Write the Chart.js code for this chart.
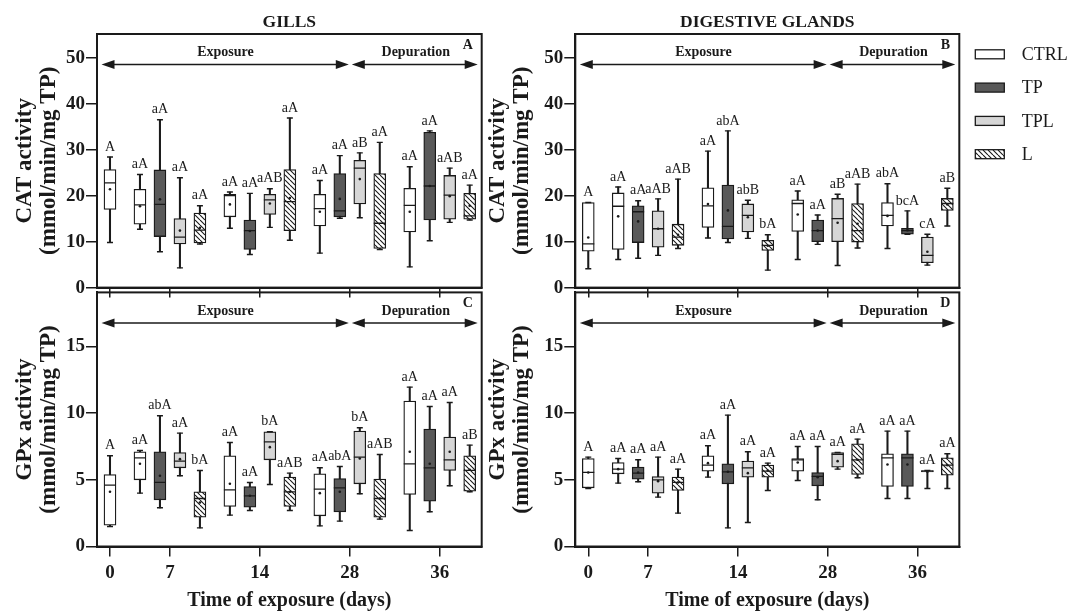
<!DOCTYPE html>
<html>
<head>
<meta charset="utf-8">
<script src="https://cdn.jsdelivr.net/npm/chart.js@4.4.0/dist/chart.umd.min.js"></script>
<style>
  html, body { margin: 0; padding: 0; background: #fff; }
  body { width: 1070px; height: 611px; position: relative; overflow: hidden; }
  canvas { position: absolute; }
</style>
</head>
<body>
<canvas id="chartA" width="530" height="300" style="left:0;top:0"></canvas>
<canvas id="chartB" width="592" height="300" style="left:478px;top:0"></canvas>
<canvas id="chartC" width="530" height="331" style="left:0;top:280px"></canvas>
<canvas id="chartD" width="592" height="331" style="left:478px;top:280px"></canvas>
<script>
/* ------------------
    Data
-------------------*/
var days = ['0', '7', '14', '28', '36'];
var dayPos = [0, 3, 7.5, 12, 16.5];          // where each day sits on the x axis
var groups = ['CTRL', 'TP', 'TPL', 'L'];
var groupShift = [-1.5, -0.5, 0.5, 1.5];
var catTicks = [0, 10, 20, 30, 40, 50];
var gpxTicks = [0, 5, 10, 15];

// each box: [min, q1, median, q3, max, mean]
// CTRL starts at day 0, the other groups at day 7
var catGillsCTRL = [[9.8, 17.0, 22.8, 25.7, 28.4, 21.4], [12.7, 13.8, 18.0, 21.4, 24.6, 17.7], [12.9, 15.4, 20.0, 20.3, 20.8, 18.1], [7.5, 13.4, 17.2, 20.3, 23.3, 16.5], [4.5, 12.1, 17.9, 21.6, 26.3, 16.5]];
var catGillsTP   = [[7.8, 11.1, 18.1, 25.6, 36.5, 19.2], [7.2, 8.3, 12.4, 14.7, 20.5, 12.3], [15.1, 15.4, 16.7, 24.8, 28.7, 19.3], [10.2, 14.7, 22.1, 33.8, 34.1, 22.1]];
var catGillsTPL  = [[4.3, 9.5, 11.0, 15.0, 23.9, 12.4], [13.1, 15.9, 19.1, 20.3, 21.5, 18.3], [15.2, 18.2, 26.0, 27.7, 29.3, 23.6], [14.2, 14.9, 20.1, 24.4, 26.0, 19.9]];
var catGillsL    = [[9.5, 9.7, 12.5, 16.2, 17.8, 13.0], [10.3, 12.4, 18.7, 25.7, 36.9, 19.5], [8.3, 8.5, 14.0, 24.8, 31.6, 16.2], [14.7, 14.9, 15.6, 20.5, 22.3, 17.8]];

var catDigCTRL = [[4.1, 7.9, 9.5, 18.5, 18.5, 10.9], [6.1, 8.3, 17.7, 20.6, 21.9, 15.5], [10.8, 13.1, 17.8, 21.7, 29.7, 18.2], [6.1, 12.2, 18.3, 19.1, 21.0, 15.9], [8.5, 13.4, 15.7, 18.5, 22.6, 15.6]];
var catDigTP   = [[6.4, 9.8, 16.5, 17.8, 18.9, 14.4], [9.8, 10.6, 13.3, 22.3, 34.1, 16.8], [9.4, 10.0, 12.4, 14.7, 15.8, 12.4], [11.6, 11.6, 12.4, 12.9, 16.7, 12.5]];
var catDigTPL  = [[7.0, 8.8, 12.8, 16.7, 19.3, 12.8], [10.7, 12.1, 15.7, 18.2, 19.0, 15.3], [4.8, 10.0, 15.0, 19.4, 20.3, 14.1], [4.9, 5.4, 7.0, 11.0, 11.6, 7.8]];
var catDigL    = [[8.5, 9.2, 11.0, 13.8, 23.6, 11.5], [3.8, 8.1, 9.2, 10.3, 11.5, 9.1], [8.6, 9.9, 12.4, 18.3, 22.5, 13.9], [13.4, 16.8, 18.3, 19.4, 21.6, 18.1]];

var gpxGillsCTRL = [[1.5, 1.6, 4.6, 5.4, 6.8, 4.1], [4.0, 5.0, 6.65, 7.1, 7.2, 6.2], [2.35, 3.0, 4.25, 6.8, 7.8, 4.7], [1.55, 2.3, 4.3, 5.45, 5.9, 4.0], [1.2, 3.9, 6.2, 10.9, 11.95, 7.1]];
var gpxGillsTP   = [[2.9, 3.5, 4.8, 7.1, 9.8, 5.3], [2.7, 2.95, 3.8, 4.5, 4.8, 3.8], [1.9, 2.6, 4.4, 5.1, 6.0, 4.1], [2.6, 3.4, 5.9, 8.8, 10.5, 6.2]];
var gpxGillsTPL  = [[5.3, 5.9, 6.4, 7.05, 8.5, 6.55], [4.65, 6.5, 7.85, 8.6, 8.6, 7.45], [3.95, 4.7, 6.7, 8.65, 8.9, 6.6], [4.55, 5.7, 6.5, 8.2, 10.8, 7.1]];
var gpxGillsL    = [[1.4, 2.2, 3.6, 4.1, 5.7, 3.3], [2.7, 3.0, 4.1, 5.2, 5.5, 4.1], [2.05, 2.2, 3.6, 5.05, 6.9, 3.6], [4.1, 4.15, 5.7, 6.8, 7.6, 5.75]];

var gpxDigCTRL = [[4.35, 4.4, 5.55, 6.6, 6.7, 5.55], [4.75, 5.45, 5.8, 6.3, 6.6, 5.8], [5.2, 5.65, 6.1, 6.8, 7.55, 6.25], [4.95, 5.65, 6.5, 6.6, 7.5, 6.3], [3.6, 4.5, 6.65, 6.95, 8.65, 6.15]];
var gpxDigTP   = [[4.85, 5.05, 5.5, 5.95, 6.5, 5.55], [1.4, 4.7, 5.6, 6.2, 9.85, 5.6], [3.5, 4.55, 5.25, 5.55, 7.5, 5.2], [3.6, 4.5, 6.65, 6.95, 8.65, 6.15]];
var gpxDigTPL  = [[3.7, 4.0, 5.0, 5.25, 6.7, 4.9], [1.8, 5.2, 5.9, 6.4, 7.1, 5.5], [5.8, 5.95, 6.9, 7.05, 7.05, 6.4], [4.35, 5.6, 5.65, 5.7, 5.7, 5.6]];
var gpxDigL    = [[2.5, 4.2, 4.8, 5.2, 5.8, 4.8], [4.2, 5.2, 5.65, 6.1, 6.25, 5.7], [5.15, 5.4, 6.5, 7.7, 8.05, 6.5], [4.35, 5.35, 6.1, 6.65, 6.95, 6.1]];

// significance letters, same order as the boxes
var catGillsLetters = [['A', 'aA', 'aA', 'aA', 'aA'], ['aA', 'aA', 'aA', 'aA'], ['aA', 'aAB', 'aB', 'aAB'], ['aA', 'aA', 'aA', 'aA']];
var catDigLetters   = [['A', 'aA', 'aA', 'aA', 'abA'], ['aA', 'abA', 'aA', 'bcA'], ['aAB', 'abB', 'aB', 'cA'], ['aAB', 'bA', 'aAB', 'aB']];
var gpxGillsLetters = [['A', 'aA', 'aA', 'aA', 'aA'], ['abA', 'aA', 'abA', 'aA'], ['aA', 'bA', 'bA', 'aA'], ['bA', 'aAB', 'aAB', 'aB']];
var gpxDigLetters   = [['A', 'aA', 'aA', 'aA', 'aA'], ['aA', 'aA', 'aA', 'aA'], ['aA', 'aA', 'aA', 'aA'], ['aA', 'aA', 'aA', 'aA']];

/* ------------------
    Styles
-------------------*/
var ink = '#1a1a1a';
var serif = '"Liberation Serif", "Times New Roman", serif';

function hatchPattern() {
    var c = document.createElement('canvas');
    c.width = 5; c.height = 5;
    var g = c.getContext('2d');
    g.fillStyle = '#fff';
    g.fillRect(0, 0, 5, 5);
    g.strokeStyle = ink;
    g.lineWidth = 1.1;
    g.beginPath();
    [-5, 0, 5].forEach(function (k) { g.moveTo(k, 0); g.lineTo(k + 5, 5); });
    g.stroke();
    return g.createPattern(c, 'repeat');
}
var fills = ['#ffffff', '#595959', '#d6d6d6', hatchPattern()];

function boxX(g, i) {
    if (g === 0) return i === 0 ? dayPos[0] : dayPos[i] + groupShift[0];
    return dayPos[i + 1] + groupShift[g];
}

/* ------------------
    Plugin: frame, arrows, letters, legend
-------------------*/
function arrow(ctx, x1, x2, y) {
    ctx.beginPath();
    ctx.moveTo(x1 + 8, y); ctx.lineTo(x2 - 8, y);
    ctx.stroke();
    ctx.beginPath();
    ctx.moveTo(x1, y); ctx.lineTo(x1 + 13, y - 4.5); ctx.lineTo(x1 + 13, y + 4.5); ctx.closePath();
    ctx.moveTo(x2, y); ctx.lineTo(x2 - 13, y - 4.5); ctx.lineTo(x2 - 13, y + 4.5); ctx.closePath();
    ctx.fill();
}

var decor = {
    id: 'decor',
    afterDraw: function (chart, args, o) {
        var ctx = chart.ctx, a = chart.chartArea, xs = chart.scales.x, ys = chart.scales.y;
        ctx.save();
        ctx.strokeStyle = ink;
        ctx.fillStyle = ink;
        ctx.lineWidth = 2;
        ctx.strokeRect(a.left, a.top, a.right - a.left, a.bottom - a.top);

        // exposure / depuration arrows
        var ay = a.top + 30.5;
        var x28 = xs.getPixelForValue(dayPos[3]);
        ctx.lineWidth = 1.5;
        arrow(ctx, a.left + 4.5, x28 - 1, ay);
        arrow(ctx, x28 + 2, a.right - 4, ay);
        ctx.font = 'bold 14px ' + serif;
        ctx.textAlign = 'center';
        ctx.textBaseline = 'middle';
        ctx.fillText('Exposure', (a.left + x28) / 2 + 2, ay - 12);
        ctx.fillText('Depuration', (x28 + a.right) / 2, ay - 12);
        ctx.fillText(o.letter, a.right - 14, a.top + 11);

        // header above the top panels
        if (o.header) {
            ctx.font = 'bold 17.5px ' + serif;
            ctx.fillText(o.header, (a.left + a.right) / 2, 22);
        }

        // significance letters above each whisker
        ctx.font = '14px ' + serif;
        ctx.textBaseline = 'bottom';
        o.marks.forEach(function (m) {
            ctx.fillText(m.text, xs.getPixelForValue(m.x), ys.getPixelForValue(m.y) - 3);
        });

        // legend
        if (o.legend) {
            ctx.textAlign = 'left';
            ctx.textBaseline = 'middle';
            ctx.font = '18px ' + serif;
            ctx.lineWidth = 1.3;
            groups.forEach(function (name, g) {
                var y = a.top + 20.3 + g * 33.3;
                ctx.fillStyle = fills[g];
                ctx.fillRect(a.right + 16, y - 4.5, 29, 9);
                ctx.strokeRect(a.right + 16, y - 4.5, 29, 9);
                ctx.fillStyle = ink;
                ctx.fillText(name, a.right + 62.5, y + 1);
            });
        }
        ctx.restore();
    }
};

/* ------------------
    One panel
-------------------*/
function makePanel(id, stats, letters, cfg) {
    var datasets = [];
    var marks = [];
    groups.forEach(function (name, g) {
        var s = stats[g];
        var xs = s.map(function (d, i) { return boxX(g, i); });
        datasets.push({
            type: 'bar', label: name + ' range',
            data: s.map(function (d, i) { return {x: xs[i], y: [d[0], d[4]]}; }),
            backgroundColor: ink, barThickness: 1.4, grouped: false, order: 6
        });
        datasets.push({
            type: 'bar', label: name,
            data: s.map(function (d, i) { return {x: xs[i], y: [d[1], d[3]]}; }),
            backgroundColor: fills[g], borderColor: ink, borderWidth: 1.3, borderSkipped: false,
            barThickness: 12, grouped: false, order: 5
        });
        var caps = [];
        s.forEach(function (d, i) { caps.push({x: xs[i], y: d[0]}, {x: xs[i], y: d[4]}); });
        datasets.push({
            type: 'scatter', label: name + ' caps', data: caps,
            pointStyle: 'line', pointRadius: 3, pointHoverRadius: 3,
            pointBorderColor: ink, pointBorderWidth: 1.4, order: 3
        });
        datasets.push({
            type: 'scatter', label: name + ' median',
            data: s.map(function (d, i) { return {x: xs[i], y: d[2]}; }),
            pointStyle: 'line', pointRadius: 6, pointHoverRadius: 6,
            pointBorderColor: ink, pointBorderWidth: 1.3, order: 2
        });
        datasets.push({
            type: 'scatter', label: name + ' mean',
            data: s.map(function (d, i) { return {x: xs[i], y: d[5]}; }),
            pointStyle: 'circle', pointRadius: 1.3, pointHoverRadius: 1.3,
            pointBackgroundColor: ink, pointBorderWidth: 0, order: 1
        });
        s.forEach(function (d, i) { marks.push({x: xs[i], y: d[4], text: letters[g][i]}); });
    });

    return new Chart(document.getElementById(id), {
        type: 'bar',
        data: {datasets: datasets},
        plugins: [decor],
        options: {
            responsive: false,
            animation: false,
            events: [],
            layout: {padding: cfg.padding, autoPadding: false},
            plugins: {
                legend: {display: false},
                tooltip: {enabled: false},
                decor: {letter: cfg.letter, header: cfg.header, legend: cfg.legend, marks: marks}
            },
            scales: {
                x: {
                    type: 'linear', min: -0.65, max: 18.6, offset: false,
                    afterBuildTicks: function (s) { s.ticks = dayPos.map(function (v) { return {value: v}; }); },
                    afterFit: function (s) { s.height = cfg.xHeight; },
                    grid: {drawOnChartArea: false, drawTicks: true, tickLength: 10, color: ink, lineWidth: 1.5, offset: false},
                    border: {display: true, color: ink, width: 2},
                    ticks: {
                        display: cfg.showX, autoSkip: false, maxRotation: 0, padding: 5, color: ink,
                        font: {family: serif, size: 19, weight: 'bold'},
                        callback: function (v, i) { return days[i]; }
                    },
                    title: {
                        display: cfg.showX, text: 'Time of exposure (days)', color: ink, padding: 0,
                        font: {family: serif, size: 20, weight: 'bold', lineHeight: 1}
                    }
                },
                y: {
                    type: 'linear', min: 0, max: cfg.yMax,
                    afterBuildTicks: function (s) { s.ticks = cfg.yTicks.map(function (v) { return {value: v}; }); },
                    afterFit: function (s) { s.width = cfg.yWidth; },
                    grid: {drawOnChartArea: false, drawTicks: true, tickLength: 11, color: ink, lineWidth: 1.5},
                    border: {display: true, color: ink, width: 2},
                    ticks: {padding: 1, color: ink, font: {family: serif, size: 19, weight: 'bold'}},
                    title: {
                        display: true, text: cfg.yTitle, color: ink,
                        padding: {top: cfg.titlePad, bottom: 0},
                        font: {family: serif, size: 23, weight: 'bold', lineHeight: 1.05}
                    }
                }
            }
        }
    });
}

var chartA = makePanel('chartA', [catGillsCTRL, catGillsTP, catGillsTPL, catGillsL], catGillsLetters, {
    padding: {left: 0, top: 34, right: 48.3, bottom: 0}, yWidth: 97, titlePad: 13, xHeight: 10,
    yMax: 55.17, yTicks: catTicks, yTitle: ['CAT activity', '(mmol/min/mg TP)'],
    showX: false, letter: 'A', header: 'GILLS', legend: false
});
var chartB = makePanel('chartB', [catDigCTRL, catDigTP, catDigTPL, catDigL], catDigLetters, {
    padding: {left: 0, top: 34, right: 110.7, bottom: 0}, yWidth: 97.3, titlePad: 8, xHeight: 10,
    yMax: 55.17, yTicks: catTicks, yTitle: ['CAT activity', '(mmol/min/mg TP)'],
    showX: false, letter: 'B', header: 'DIGESTIVE GLANDS', legend: true
});
var chartC = makePanel('chartC', [gpxGillsCTRL, gpxGillsTP, gpxGillsTPL, gpxGillsL], gpxGillsLetters, {
    padding: {left: 0, top: 10, right: 48.3, bottom: 0}, yWidth: 97, titlePad: 13, xHeight: 64.5,
    yMax: 19.05, yTicks: gpxTicks, yTitle: ['GPx activity', '(mmol/min/mg TP)'],
    showX: true, letter: 'C', header: null, legend: false
});
var chartD = makePanel('chartD', [gpxDigCTRL, gpxDigTP, gpxDigTPL, gpxDigL], gpxDigLetters, {
    padding: {left: 0, top: 10, right: 110.7, bottom: 0}, yWidth: 97.3, titlePad: 8, xHeight: 64.5,
    yMax: 19.05, yTicks: gpxTicks, yTitle: ['GPx activity', '(mmol/min/mg TP)'],
    showX: true, letter: 'D', header: null, legend: false
});
</script>
</body>
</html>
